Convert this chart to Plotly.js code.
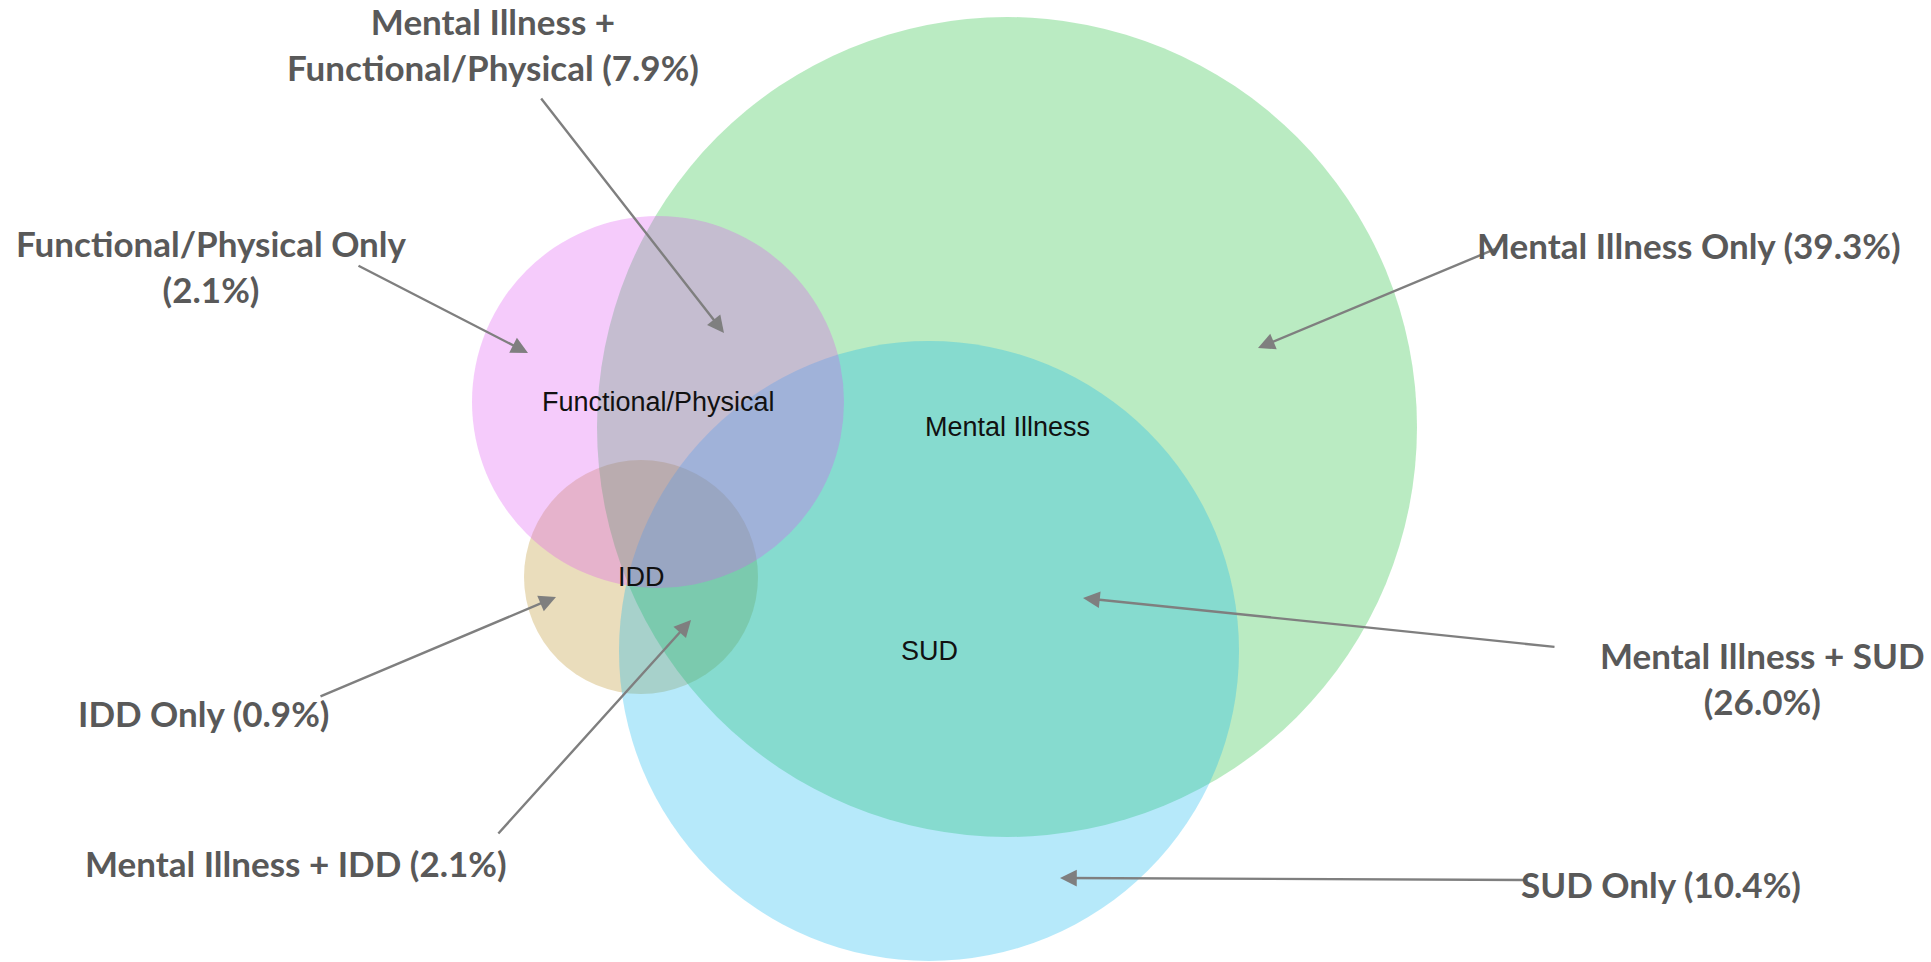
<!DOCTYPE html>
<html>
<head>
<meta charset="utf-8">
<script src="https://cdn.plot.ly/plotly-3.0.1.min.js"></script>
<style>html,body{margin:0;padding:0;background:#fff;overflow:hidden}</style>
</head>
<body>
<div id="chart" style="width:1931px;height:962px"></div>
<script>
// ---- Data: sets (diagram geometry in diagram units) ----
const setNames   = ['IDD', 'Mental Illness', 'SUD', 'Functional/Physical'];
const setCenterX = [641, 1007, 929, 658];
const setCenterY = [577, 427, 651, 402];
const setRadius  = [117, 410, 310, 186];

// ---- Data: regions and their shares ----
const regionNames = ['Mental Illness +<br>Functional/Physical', 'Functional/Physical Only<br>', 'Mental Illness Only',
                     'Mental Illness + SUD<br>', 'SUD Only', 'IDD Only', 'Mental Illness + IDD'];
const regionPct   = [7.9, 2.1, 39.3, 26.0, 10.4, 0.9, 2.1];
// point inside each region the pointer targets
const regionPointX = [724, 528, 1258, 1083, 1060, 556, 691];
const regionPointY = [333, 353, 348, 598, 878, 597, 620];

// ---- Styles / label placement ----
const setFill = ['rgb(185,142,32)', 'rgb(28,188,52)', 'rgb(12,182,240)', 'rgb(222,82,242)'];
const labelX = [493, 211, 1689, 1762, 1661, 203, 296];
const labelY = [44, 266, 245, 678, 884, 713, 863];
const tailX  = [540, 357, 1500, 1556, 1529, 319, 497];
const tailY  = [97, 265, 247, 647, 880, 697, 835];

const shapes = setNames.map((n, i) => ({
  type: 'circle', xref: 'x', yref: 'y',
  x0: setCenterX[i] - setRadius[i], x1: setCenterX[i] + setRadius[i],
  y0: setCenterY[i] - setRadius[i], y1: setCenterY[i] + setRadius[i],
  fillcolor: setFill[i], opacity: 0.3, line: {width: 0}, layer: 'below'
}));

const annotations = [];
// set name labels at circle centres
setNames.forEach((n, i) => annotations.push({
  x: setCenterX[i], y: setCenterY[i], xref: 'x', yref: 'y', text: n, showarrow: false,
  xanchor: 'center', yanchor: 'middle',
  font: {family: 'Liberation Sans, Arial, sans-serif', size: 27, color: '#111111'}
}));
// arrows
regionNames.forEach((n, i) => annotations.push({
  x: regionPointX[i], y: regionPointY[i], xref: 'x', yref: 'y',
  ax: tailX[i], ay: tailY[i], axref: 'x', ayref: 'y', text: '',
  showarrow: true, arrowhead: 2, arrowsize: 1.4, arrowwidth: 2.4, arrowcolor: '#7f7f7f', standoff: 0, startstandoff: 0
}));
// region text labels
regionNames.forEach((n, i) => {
  const t = n.endsWith('<br>') ? n + '(' + regionPct[i].toFixed(1) + '%)'
          : n + ' (' + regionPct[i].toFixed(1) + '%)';
  annotations.push({
    x: labelX[i], y: labelY[i], xref: 'x', yref: 'y', text: t, showarrow: false,
    xanchor: 'center', yanchor: 'middle', align: 'center',
    font: {family: 'Lato, sans-serif', size: 35, color: '#595959', weight: 'bold'}
  });
});

const layout = {
  width: 1931, height: 962,
  margin: {l: 0, r: 0, t: 0, b: 0, pad: 0},
  paper_bgcolor: '#ffffff', plot_bgcolor: '#ffffff',
  xaxis: {range: [0, 1931], visible: false, fixedrange: true},
  yaxis: {range: [962, 0], visible: false, fixedrange: true},
  showlegend: false,
  shapes: shapes,
  annotations: annotations
};

Plotly.newPlot('chart', [{x: [], y: [], type: 'scatter', mode: 'markers', hoverinfo: 'skip'}], layout, {staticPlot: true, displayModeBar: false});
</script>
</body>
</html>
